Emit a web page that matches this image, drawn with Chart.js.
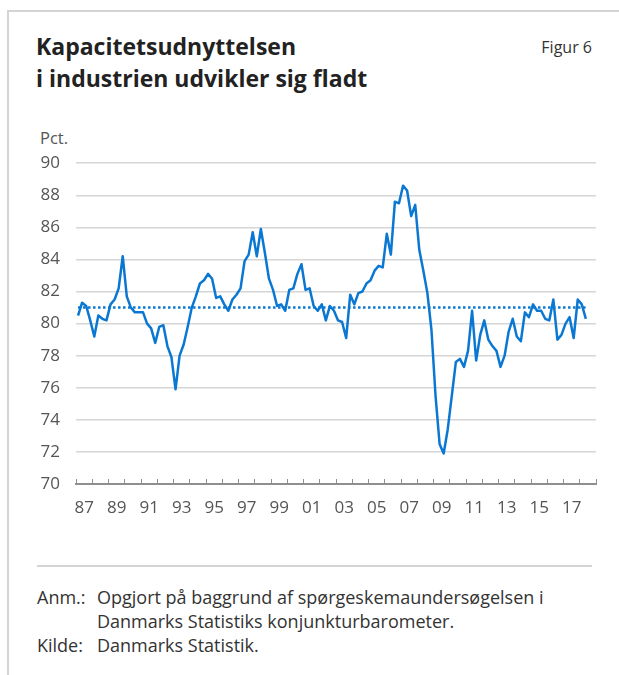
<!DOCTYPE html>
<html lang="da">
<head>
<meta charset="utf-8">
<title>Figur 6</title>
<script src="https://cdn.jsdelivr.net/npm/chart.js@4.4.1/dist/chart.umd.min.js"></script>
<style>
  body { margin: 0; width: 619px; height: 675px; background: #fff; position: relative; overflow: hidden;
         font-family: "Open Sans", "Noto Sans", sans-serif; }
  .frame { position: absolute; left: 7px; top: 10px; right: -10px; bottom: -10px;
           border-top: 2px solid #d4d4d4; border-left: 2px solid #d4d4d4; }
  h1 { position: absolute; left: 36px; top: 30px; margin: 0; font-size: 23px; line-height: 32px;
       font-weight: 700; color: #222; }
  .fig { position: absolute; right: 27px; top: 36px; font-size: 16px; color: #333; }
  .unit { position: absolute; left: 40px; top: 126px; font-size: 16.5px; color: #555; }
  #wrap { position: absolute; left: 0; top: 153px; width: 619px; height: 376px; }
  .sep { position: absolute; left: 37px; top: 565px; width: 555px; border-top: 2px solid #d4d4d4; }
  .note { position: absolute; left: 37px; top: 585px; font-size: 18px; line-height: 24px; color: #333;
          border-collapse: collapse; }
  .note td { padding: 0; vertical-align: top; }
  .note td.k { width: 60px; }
</style>
</head>
<body>
<div class="frame"></div>
<h1>Kapacitetsudnyttelsen<br>i industrien udvikler sig fladt</h1>
<div class="fig">Figur 6</div>
<div class="unit">Pct.</div>
<div id="wrap"><canvas id="chart" width="619" height="376"></canvas></div>
<div class="sep"></div>
<table class="note">
  <tr><td class="k">Anm.:</td><td>Opgjort på baggrund af spørgeskemaundersøgelsen i<br>Danmarks Statistiks konjunkturbarometer.</td></tr>
  <tr><td class="k">Kilde:</td><td>Danmarks Statistik.</td></tr>
</table>

<script>
// Kapacitetsudnyttelse i industrien, kvartalsvis 1987K1 - 2018K2
const startYear = 1987;
const capacity = [
  80.5, 81.3, 81.1, 80.2, 79.2, 80.5, 80.3, 80.2, 81.2, 81.5, 82.2, 84.2,   // 87-89
  81.7, 81.0, 80.7, 80.7, 80.7, 80.0, 79.7, 78.8, 79.8, 79.9, 78.6, 77.9,   // 90-92
  75.9, 78.0, 78.7, 79.8, 81.0, 81.7, 82.5, 82.7, 83.1, 82.8, 81.6, 81.7,   // 93-95
  81.2, 80.8, 81.5, 81.8, 82.2, 83.9, 84.3, 85.7, 84.2, 85.9, 84.4, 82.8,   // 96-98
  82.1, 81.1, 81.2, 80.8, 82.1, 82.2, 83.1, 83.7, 82.1, 82.2, 81.1, 80.8,   // 99-01
  81.2, 80.2, 81.1, 80.8, 80.2, 80.1, 79.1, 81.8, 81.2, 81.9, 82.0, 82.5,   // 02-04
  82.7, 83.3, 83.6, 83.5, 85.6, 84.3, 87.6, 87.5, 88.6, 88.3, 86.7, 87.4,   // 05-07
  84.6, 83.3, 81.9, 79.6, 75.5, 72.5, 71.9, 73.4, 75.5, 77.6, 77.8, 77.3,   // 08-10
  78.3, 80.8, 77.7, 79.3, 80.2, 79.0, 78.6, 78.3, 77.3, 78.0, 79.5, 80.3,   // 11-13
  79.2, 78.9, 80.7, 80.4, 81.2, 80.8, 80.8, 80.3, 80.2, 81.5, 79.0, 79.3,   // 14-16
  80.0, 80.4, 79.1, 81.5, 81.2, 80.3                                        // 17-18
];
const average = 81.0;

const tickYears = [1987, 1988, 1989, 1990, 1991, 1992, 1993, 1994, 1995, 1996, 1997,
  1998, 1999, 2000, 2001, 2002, 2003, 2004, 2005, 2006, 2007, 2008, 2009, 2010,
  2011, 2012, 2013, 2014, 2015, 2016, 2017, 2018, 2019];
const labelYears = [1987, 1989, 1991, 1993, 1995, 1997, 1999, 2001, 2003, 2005,
  2007, 2009, 2011, 2013, 2015, 2017];
const tickLabels = ['87', '89', '91', '93', '95', '97', '99', '01', '03', '05',
  '07', '09', '11', '13', '15', '17'];
const yTicks = [70, 72, 74, 76, 78, 80, 82, 84, 86, 88, 90];

const blue = '#0a78d2';
const points = capacity.map((v, i) => ({ x: startYear + (i + 0.5) / 4, y: v }));
const avgLine = [
  { x: points[0].x, y: average },
  { x: points[points.length - 1].x, y: average }
];

new Chart(document.getElementById('chart'), {
  type: 'line',
  data: {
    datasets: [
      {
        data: points,
        borderColor: blue,
        borderWidth: 2.5,
        borderJoinStyle: 'round',
        pointRadius: 0,
        tension: 0
      },
      {
        data: avgLine,
        borderColor: blue,
        borderWidth: 2.5,
        borderDash: [2.5, 2.5],
        pointRadius: 0
      }
    ]
  },
  options: {
    responsive: false,
    animation: false,
    layout: { padding: { top: 0, right: 23, bottom: 0, left: 0 } },
    plugins: { legend: { display: false }, tooltip: { enabled: false } },
    scales: {
      x: {
        type: 'linear',
        min: 1987,
        max: 2019,
        afterBuildTicks: (scale) => {
          const vals = tickYears.concat(labelYears.map(y => y + 0.5)).sort((a, b) => a - b);
          scale.ticks = vals.map(v => ({ value: v }));
        },
        afterFit: (scale) => { scale.height = 45; },
        grid: {
          drawOnChartArea: false,
          tickLength: -5,
          tickWidth: 1,
          tickColor: (ctx) => (ctx.tick && Number.isInteger(ctx.tick.value)) ? '#8f8f8f' : 'rgba(0,0,0,0)'
        },
        border: { color: '#8f8f8f', width: 2 },
        ticks: {
          autoSkip: false,
          maxRotation: 0,
          minRotation: 0,
          padding: 19,
          color: '#555',
          font: { family: '"Open Sans", sans-serif', size: 17 },
          callback: (value) => {
            const k = labelYears.indexOf(value - 0.5);
            return k >= 0 ? tickLabels[k] : '';
          }
        }
      },
      y: {
        min: 70,
        max: 90,
        afterBuildTicks: (scale) => { scale.ticks = yTicks.map(v => ({ value: v })); },
        afterFit: (scale) => { scale.width = 76; },
        grid: {
          drawTicks: true,
          tickLength: 16,
          tickColor: 'rgba(0,0,0,0)',
          lineWidth: 1.5,
          color: (ctx) => (ctx.tick && ctx.tick.value === 70) ? 'rgba(0,0,0,0)' : '#d6d6d6'
        },
        border: { display: false },
        ticks: {
          padding: 0,
          color: '#555',
          font: { family: '"Open Sans", sans-serif', size: 17 }
        }
      }
    }
  }
});
</script>
</body>
</html>
